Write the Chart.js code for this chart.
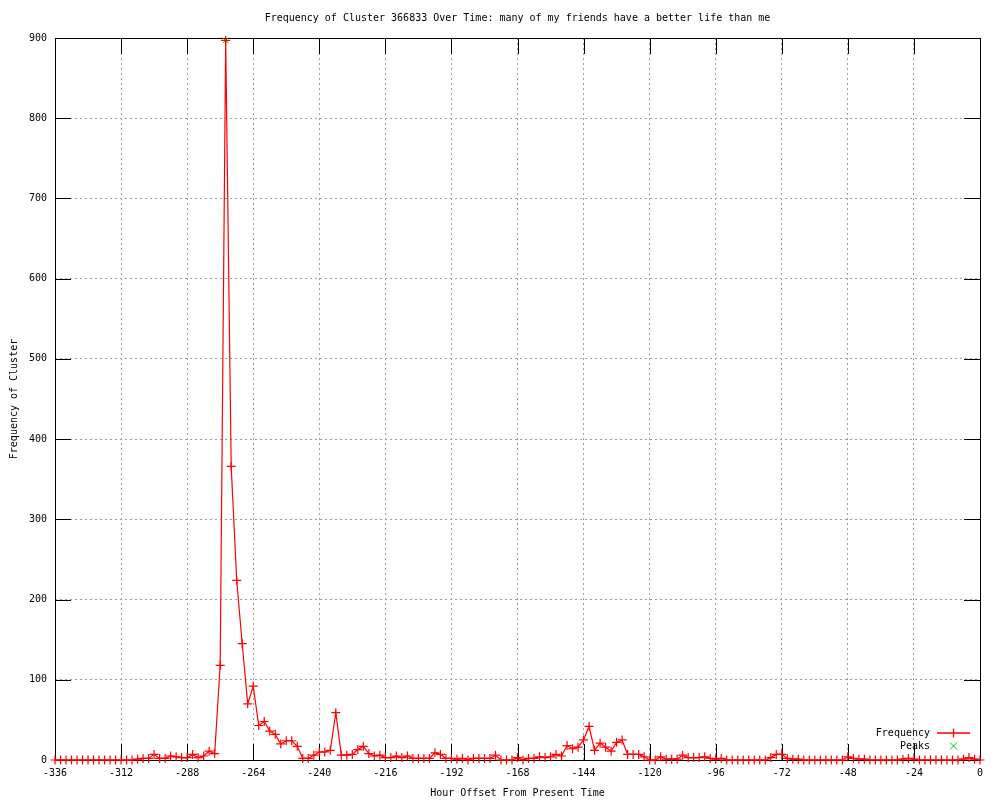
<!DOCTYPE html>
<html>
<head>
<meta charset="utf-8">
<script src="https://cdn.jsdelivr.net/npm/chart.js@4/dist/chart.umd.min.js"></script>
<style>
  html, body { margin: 0; padding: 0; background: #fff; }
  #wrap { width: 1000px; height: 800px; }
</style>
</head>
<body>
<div id="wrap"><canvas id="chart" width="1000" height="800"></canvas></div>
<script>
// hour offsets, one every 2 hours
const hours = [
  -336, -334, -332, -330, -328, -326, -324, -322, -320, -318, -316, -314,
  -312, -310, -308, -306, -304, -302, -300, -298, -296, -294, -292, -290,
  -288, -286, -284, -282, -280, -278, -276, -274, -272, -270, -268, -266,
  -264, -262, -260, -258, -256, -254, -252, -250, -248, -246, -244, -242,
  -240, -238, -236, -234, -232, -230, -228, -226, -224, -222, -220, -218,
  -216, -214, -212, -210, -208, -206, -204, -202, -200, -198, -196, -194,
  -192, -190, -188, -186, -184, -182, -180, -178, -176, -174, -172, -170,
  -168, -166, -164, -162, -160, -158, -156, -154, -152, -150, -148, -146,
  -144, -142, -140, -138, -136, -134, -132, -130, -128, -126, -124, -122,
  -120, -118, -116, -114, -112, -110, -108, -106, -104, -102, -100, -98,
  -96, -94, -92, -90, -88, -86, -84, -82, -80, -78, -76, -74,
  -72, -70, -68, -66, -64, -62, -60, -58, -56, -54, -52, -50,
  -48, -46, -44, -42, -40, -38, -36, -34, -32, -30, -28, -26,
  -24, -22, -20, -18, -16, -14, -12, -10, -8, -6, -4, -2,
  0
];

const frequency = [
  0, 0, 0, 0, 0, 0, 0, 0, 0, 0, 0, 0,
  0, 0, 0, 1, 2, 2, 7, 2, 2, 5, 4, 3,
  3, 7, 3, 5, 11, 8, 118, 897, 366, 224, 145, 70,
  92, 43, 48, 36, 32, 20, 24, 24, 17, 2, 2, 6,
  10, 10, 12, 59, 6, 6, 7, 13, 17, 8, 5, 6,
  3, 3, 5, 3, 5, 2, 2, 2, 2, 9, 7, 2,
  2, 1, 2, 0, 2, 2, 2, 2, 6, 0, 0, 0,
  3, 0, 2, 2, 4, 3, 4, 7, 5, 18, 14, 16,
  25, 42, 12, 21, 16, 11, 22, 25, 7, 7, 7, 4,
  0, 0, 4, 1, 1, 1, 6, 3, 3, 3, 4, 2,
  1, 2, 0, 0, 0, 0, 0, 0, 0, 0, 3, 7,
  7, 2, 1, 1, 0, 0, 0, 0, 0, 0, 0, 0,
  4, 2, 1, 1, 0, 0, 0, 0, 0, 0, 1, 2,
  1, 0, 0, 0, 0, 0, 0, 0, 0, 1, 3, 1,
  0
];

const peakHours = [-274];
const peakValues = [897];

const xTicks = [-336, -312, -288, -264, -240, -216, -192, -168, -144, -120, -96, -72, -48, -24, 0];
const yTicks = [0, 100, 200, 300, 400, 500, 600, 700, 800, 900];

const chartTitle = 'Frequency of Cluster 366833 Over Time: many of my friends have a better life than me';

const FONT = '"DejaVu Sans Mono", "Liberation Mono", monospace';
const RED = '#ff0000';
const GREEN = '#00c000';

// border box, inward tick marks and the title centred over the plot
const framePlugin = {
  id: 'frame',
  beforeDatasetsDraw(chart) {
    const { ctx, chartArea: a, scales } = chart;
    const len = 16;
    ctx.save();
    ctx.strokeStyle = '#000';
    ctx.lineWidth = 1;
    ctx.beginPath();
    xTicks.forEach((t) => {
      const x = Math.round(scales.x.getPixelForValue(t)) + 0.5;
      ctx.moveTo(x, a.bottom);
      ctx.lineTo(x, a.bottom - len);
      ctx.moveTo(x, a.top);
      ctx.lineTo(x, a.top + len);
    });
    yTicks.forEach((t) => {
      const y = Math.round(scales.y.getPixelForValue(t)) + 0.5;
      ctx.moveTo(a.left, y);
      ctx.lineTo(a.left + len, y);
      ctx.moveTo(a.right, y);
      ctx.lineTo(a.right - len, y);
    });
    ctx.stroke();
    ctx.strokeRect(Math.round(a.left) + 0.5, Math.round(a.top) + 0.5,
      Math.round(a.right - a.left), Math.round(a.bottom - a.top));

    ctx.font = '10px ' + FONT;
    ctx.fillStyle = '#000';
    ctx.textAlign = 'center';
    ctx.textBaseline = 'middle';
    ctx.fillText(chartTitle, (a.left + a.right) / 2, 18);
    ctx.restore();
  }
};

// key in the lower right corner
const keyPlugin = {
  id: 'key',
  afterDraw(chart) {
    const { ctx } = chart;
    const textRight = 930;
    const sampleL = 937, sampleR = 970;
    const mid = (sampleL + sampleR) / 2;
    ctx.save();
    ctx.font = '10px ' + FONT;
    ctx.fillStyle = '#000';
    ctx.textAlign = 'right';
    ctx.textBaseline = 'middle';

    ctx.fillText(chart.data.datasets[0].label, textRight, 733);
    ctx.strokeStyle = RED;
    ctx.lineWidth = 1.3;
    ctx.beginPath();
    ctx.moveTo(sampleL, 733);
    ctx.lineTo(sampleR, 733);
    ctx.moveTo(mid - 4.5, 733);
    ctx.lineTo(mid + 4.5, 733);
    ctx.moveTo(mid, 728.5);
    ctx.lineTo(mid, 737.5);
    ctx.stroke();

    ctx.fillText(chart.data.datasets[1].label, textRight, 746);
    ctx.strokeStyle = GREEN;
    ctx.lineWidth = 1;
    ctx.beginPath();
    ctx.moveTo(mid - 3.5, 742.5);
    ctx.lineTo(mid + 3.5, 749.5);
    ctx.moveTo(mid + 3.5, 742.5);
    ctx.lineTo(mid - 3.5, 749.5);
    ctx.stroke();
    ctx.restore();
  }
};

new Chart(document.getElementById('chart'), {
  type: 'line',
  data: {
    datasets: [
      {
        label: 'Frequency',
        data: hours.map((h, i) => ({ x: h, y: frequency[i] })),
        borderColor: RED,
        borderWidth: 1.2,
        pointStyle: 'cross',
        pointRadius: 4.5,
        pointBorderColor: RED,
        pointBorderWidth: 1.2,
        tension: 0,
        fill: false,
        clip: false
      },
      {
        label: 'Peaks',
        data: peakHours.map((h, i) => ({ x: h, y: peakValues[i] })),
        showLine: false,
        borderColor: GREEN,
        pointStyle: 'crossRot',
        pointRadius: 4,
        pointBorderColor: GREEN,
        pointBorderWidth: 1,
        clip: false
      }
    ]
  },
  options: {
    responsive: false,
    animation: false,
    devicePixelRatio: 1,
    layout: { padding: { left: 0, right: 20, top: 38, bottom: 0 } },
    plugins: {
      legend: { display: false },
      tooltip: { enabled: false },
      title: { display: false }
    },
    scales: {
      x: {
        type: 'linear',
        min: -336,
        max: 0,
        afterBuildTicks(scale) {
          scale.ticks = xTicks.map((v) => ({ value: v }));
        },
        afterFit(scale) { scale.height = 40; },
        ticks: {
          color: '#000',
          font: { family: FONT, size: 10 },
          padding: 7,
          maxRotation: 0,
          autoSkip: false
        },
        grid: { color: '#a0a0a0', lineWidth: 1, drawTicks: false },
        border: { display: false, dash: [2, 3] },
        title: {
          display: true,
          text: 'Hour Offset From Present Time',
          color: '#000',
          font: { family: FONT, size: 10, lineHeight: 1.2 },
          padding: { top: 0, bottom: 1 }
        }
      },
      y: {
        min: 0,
        max: 900,
        afterBuildTicks(scale) {
          scale.ticks = yTicks.map((v) => ({ value: v }));
        },
        afterFit(scale) { scale.width = 55; },
        ticks: {
          color: '#000',
          font: { family: FONT, size: 10 },
          padding: 8,
          autoSkip: false
        },
        grid: { color: '#a0a0a0', lineWidth: 1, drawTicks: false },
        border: { display: false, dash: [2, 3] },
        title: {
          display: true,
          text: 'Frequency of Cluster',
          color: '#000',
          font: { family: FONT, size: 10, lineHeight: 1.2 },
          padding: { top: 8, bottom: 0 }
        }
      }
    }
  },
  plugins: [framePlugin, keyPlugin]
});
</script>
</body>
</html>
